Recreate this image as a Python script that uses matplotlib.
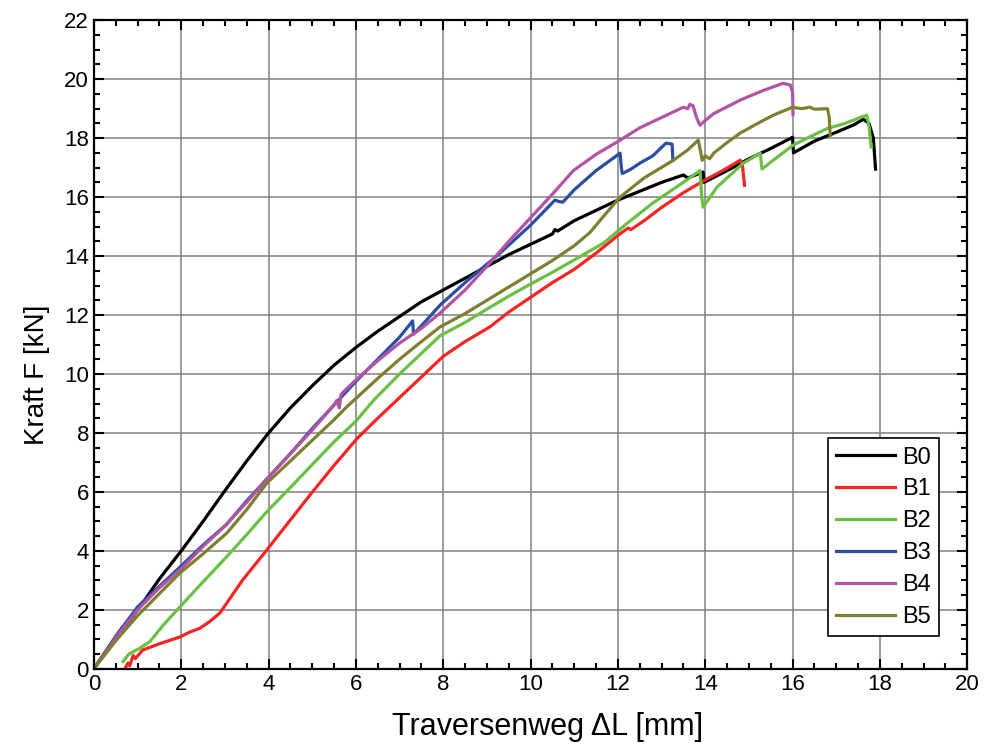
import matplotlib.pyplot as plt
from matplotlib.ticker import MultipleLocator

plt.rcParams['font.family'] = ['Liberation Sans', 'DejaVu Sans']

b0_x = [0, 0.3, 0.66, 0.72, 0.8, 1.12, 1.5, 2.0, 2.5, 2.96, 3.5, 4.0, 4.5, 5.0, 5.5, 6.0, 6.5, 7.0,
        7.5, 8.0, 8.5, 9.0, 9.5, 10.0, 10.5, 10.56, 10.62, 11.0, 11.5, 12.0, 12.5, 13.0, 13.5, 13.6,
        13.95, 13.97, 14.5, 15.0, 15.5, 16.0, 16.02, 16.5, 17.0, 17.4, 17.62, 17.75, 17.85, 17.9]
b0_y = [0, 0.65, 1.42, 1.35, 1.6, 2.24, 3.05, 4.0, 5.0, 5.96, 7.05, 8.0, 8.85, 9.6, 10.3, 10.9, 11.45,
        11.95, 12.45, 12.85, 13.25, 13.65, 14.05, 14.4, 14.75, 14.9, 14.85, 15.2, 15.55, 15.9, 16.2,
        16.5, 16.75, 16.65, 16.85, 16.5, 16.9, 17.3, 17.65, 18.03, 17.5, 17.9, 18.2, 18.45, 18.64,
        18.5, 18.0, 16.95]

b1_x = [0.71, 0.78, 0.82, 0.9, 0.95, 1.12, 1.5, 1.97, 2.2, 2.43, 2.65, 2.89, 3.4, 3.96, 4.5, 4.95,
        5.5, 6.02, 6.5, 7.0, 7.5, 8.0, 8.5, 9.07, 9.5, 10.0, 10.5, 11.0, 11.5, 12.0, 12.23, 12.3,
        12.6, 13.0, 13.5, 13.9, 14.4, 14.8, 14.85, 14.9]
b1_y = [0, 0.2, 0.1, 0.45, 0.35, 0.64, 0.85, 1.08, 1.25, 1.38, 1.6, 1.9, 3.0, 4.03, 5.05, 5.9, 6.9,
        7.8, 8.5, 9.2, 9.9, 10.6, 11.1, 11.6, 12.1, 12.6, 13.1, 13.55, 14.1, 14.7, 14.95, 14.9,
        15.2, 15.65, 16.15, 16.5, 16.9, 17.25, 17.1, 16.4]

b2_x = [0.67, 0.8, 1.05, 1.28, 1.6, 1.97, 2.5, 3.04, 3.5, 3.96, 4.5, 4.95, 5.5, 6.0, 6.4, 7.0, 7.5,
        7.93, 8.5, 9.0, 9.5, 10.0, 10.5, 11.0, 11.67, 12.2, 12.8, 13.4, 13.88, 13.92, 13.95, 14.27,
        14.87, 15.26, 15.3, 15.6, 16.01, 16.4, 16.8, 17.2, 17.55, 17.7, 17.75, 17.8]
b2_y = [0.25, 0.5, 0.7, 0.92, 1.5, 2.1, 2.95, 3.8, 4.55, 5.33, 6.15, 6.85, 7.7, 8.4, 9.1, 10.0, 10.7,
        11.3, 11.75, 12.2, 12.64, 13.05, 13.45, 13.87, 14.44, 15.1, 15.8, 16.4, 16.9, 16.0, 15.66,
        16.34, 17.15, 17.49, 16.95, 17.3, 17.76, 18.05, 18.33, 18.5, 18.7, 18.78, 18.4, 17.7]

b3_x = [0, 0.5, 1.0, 1.5, 1.97, 2.5, 3.04, 3.5, 4.0, 4.5, 5.0, 5.5, 6.0, 6.5, 7.0, 7.3, 7.32, 7.6,
        7.93, 8.5, 9.3, 10.0, 10.56, 10.65, 10.74, 11.0, 11.5, 12.05, 12.08, 12.1, 12.3, 12.5,
        12.8, 13.1, 13.24, 13.26]
b3_y = [0, 1.1, 2.1, 2.8, 3.45, 4.2, 4.9, 5.7, 6.5, 7.3, 8.15, 8.95, 9.75, 10.5, 11.25, 11.8, 11.35,
        11.8, 12.34, 13.1, 14.1, 15.05, 15.9, 15.85, 15.83, 16.25, 16.9, 17.49, 17.0, 16.8, 16.95,
        17.15, 17.4, 17.83, 17.8, 17.25]

b4_x = [0, 0.5, 1.0, 1.5, 2.0, 2.5, 3.0, 3.5, 4.0, 4.5, 5.0, 5.5, 5.56, 5.62, 5.66, 5.72, 6.0, 6.5,
        7.0, 7.5, 7.93, 8.5, 9.0, 9.5, 10.0, 10.5, 10.98, 11.5, 12.05, 12.5, 13.0, 13.5, 13.6,
        13.65, 13.72, 13.8, 13.88, 14.0, 14.19, 14.8, 15.3, 15.78, 15.95, 16.0, 16.01]
b4_y = [0, 1.05, 2.0, 2.75, 3.4, 4.15, 4.85, 5.65, 6.5, 7.3, 8.1, 8.95, 9.1, 8.85, 9.3, 9.4, 9.8,
        10.45, 11.05, 11.55, 12.07, 12.85, 13.65, 14.5, 15.3, 16.1, 16.9, 17.45, 17.93, 18.35,
        18.7, 19.05, 19.0, 19.15, 19.1, 18.7, 18.44, 18.6, 18.83, 19.29, 19.6, 19.86, 19.8, 19.56,
        18.8]

b5_x = [0, 0.5, 1.0, 1.5, 1.97, 2.5, 3.04, 3.5, 3.96, 4.5, 5.0, 5.5, 5.8, 6.5, 7.0, 7.5, 7.93, 8.5,
        9.0, 9.5, 10.0, 10.5, 11.0, 11.36, 11.7, 12.05, 12.6, 13.27, 13.6, 13.84, 13.9, 13.93,
        14.0, 14.1, 14.2, 14.5, 14.8, 15.2, 15.56, 16.0, 16.2, 16.4, 16.5, 16.8, 16.84, 16.86]
b5_y = [0, 0.95, 1.8, 2.55, 3.25, 3.9, 4.6, 5.4, 6.3, 7.05, 7.75, 8.45, 8.9, 9.85, 10.5, 11.1, 11.6,
        12.05, 12.5, 12.95, 13.4, 13.85, 14.35, 14.8, 15.4, 16.0, 16.65, 17.25, 17.6, 17.93, 17.5,
        17.25, 17.4, 17.3, 17.5, 17.85, 18.17, 18.5, 18.78, 19.05, 19.0, 19.05, 18.98, 19.0, 18.7,
        18.1]

labels = ['B0', 'B1', 'B2', 'B3', 'B4', 'B5']
colors = ['#000000', '#f42525', '#6abf45', '#2b4ea2', '#b154a6', '#7f7f32']
series = [(b0_x, b0_y), (b1_x, b1_y), (b2_x, b2_y), (b3_x, b3_y), (b4_x, b4_y), (b5_x, b5_y)]

fig = plt.figure(figsize=(9.88, 7.49), dpi=100)
ax = fig.add_axes([0.095, 0.107, 0.884, 0.866])

for (x, y), lab, col in zip(series, labels, colors):
    ax.plot(x, y, color=col, lw=2.3, label=lab, solid_joinstyle='round')

ax.set_xlim(0, 20)
ax.set_ylim(0, 22)
ax.xaxis.set_major_locator(MultipleLocator(2))
ax.xaxis.set_minor_locator(MultipleLocator(0.5))
ax.yaxis.set_major_locator(MultipleLocator(2))
ax.yaxis.set_minor_locator(MultipleLocator(0.5))
ax.tick_params(which='both', direction='in', top=True, right=True, labelsize=16, width=1.5)
ax.tick_params(which='major', length=7)
ax.tick_params(which='minor', length=4)
ax.grid(True, which='major', color='#808080', lw=1.1)
ax.set_axisbelow(True)
for s in ax.spines.values():
    s.set_linewidth(1.6)

ax.set_xlabel('Traversenweg \u0394L [mm]', fontsize=22)
ax.set_ylabel('Kraft F [kN]', fontsize=20)
ax.xaxis.set_label_coords(0.52, -0.066)
ax.yaxis.set_label_coords(-0.065, 0.453)
ax.yaxis.label.set_va('center')

leg = ax.legend(loc='lower right', bbox_to_anchor=(0.968, 0.05), fontsize=17, fancybox=False,
                edgecolor='black', framealpha=1, handlelength=2.5, labelspacing=0.42,
                borderpad=0.35, handletextpad=0.3, borderaxespad=0)
leg.get_frame().set_linewidth(1.2)

plt.savefig('out.png', dpi=100)
